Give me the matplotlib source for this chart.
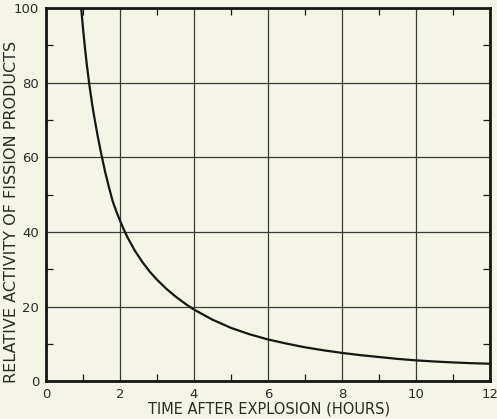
import matplotlib
matplotlib.use("Agg")
import matplotlib.pyplot as plt
from matplotlib.ticker import MultipleLocator

# activity of the fission products read at several times after the burst
hours = [0.95, 1.0, 1.05, 1.1, 1.17, 1.25, 1.3, 1.4, 1.48, 1.6, 1.7, 1.8,
         1.9, 2.0, 2.1, 2.2, 2.4, 2.6, 2.8, 3.0, 3.25, 3.5, 3.8, 4.0, 4.5,
         5.0, 5.5, 6.0, 6.5, 7.0, 7.5, 8.0, 8.5, 9.0, 9.5, 10.0, 10.5, 11.0,
         11.5, 12.0]
activity = [100, 94.5, 89.5, 85, 79.5, 74, 71, 65.5, 61.5, 56, 52, 48.3,
            45.5, 43, 40.7, 38.6, 35, 32, 29.4, 27.2, 24.8, 22.7, 20.5, 19.2,
            16.5, 14.3, 12.6, 11.2, 10.1, 9.1, 8.3, 7.6, 7.0, 6.5, 6.0, 5.6,
            5.3, 5.05, 4.85, 4.7]

x_ticks = [0, 2, 4, 6, 8, 10, 12]
y_ticks = [0, 20, 40, 60, 80, 100]

paper = "#f5f5e7"
ink = "#161616"

fig = plt.figure(figsize=(4.97, 4.19), dpi=100, facecolor=paper)
ax = fig.add_axes([0.0926, 0.09, 0.8934, 0.891], facecolor=paper)

ax.plot(hours, activity, color=ink, lw=1.6, solid_capstyle="butt")

ax.set_xlim(0, 12)
ax.set_ylim(0, 100)
ax.set_xticks(x_ticks)
ax.set_yticks(y_ticks)
ax.xaxis.set_minor_locator(MultipleLocator(1))
ax.yaxis.set_minor_locator(MultipleLocator(10))
ax.grid(True, which="major", color="#3a3a3a", lw=0.9)

ax.tick_params(which="major", length=0, pad=5, labelsize=9.5, colors="#2a2a2a")
ax.tick_params(which="minor", direction="in", length=5, width=0.9,
               top=True, right=True, color=ink)
for side in ax.spines.values():
    side.set_linewidth(2.0)
    side.set_color(ink)

# axis titles placed on the figure so they sit close to the edges
fig.text(269 / 497, 1 - 409 / 419, "TIME AFTER EXPLOSION (HOURS)",
         fontsize=10.5, color="#2a2a2a", ha="center", va="center")
fig.text(12 / 497, 1 - 212 / 419, "RELATIVE ACTIVITY OF FISSION PRODUCTS",
         fontsize=11.5, color="#2a2a2a", ha="center", va="center", rotation=90)

fig.savefig("out.png", dpi=100, facecolor=paper)
